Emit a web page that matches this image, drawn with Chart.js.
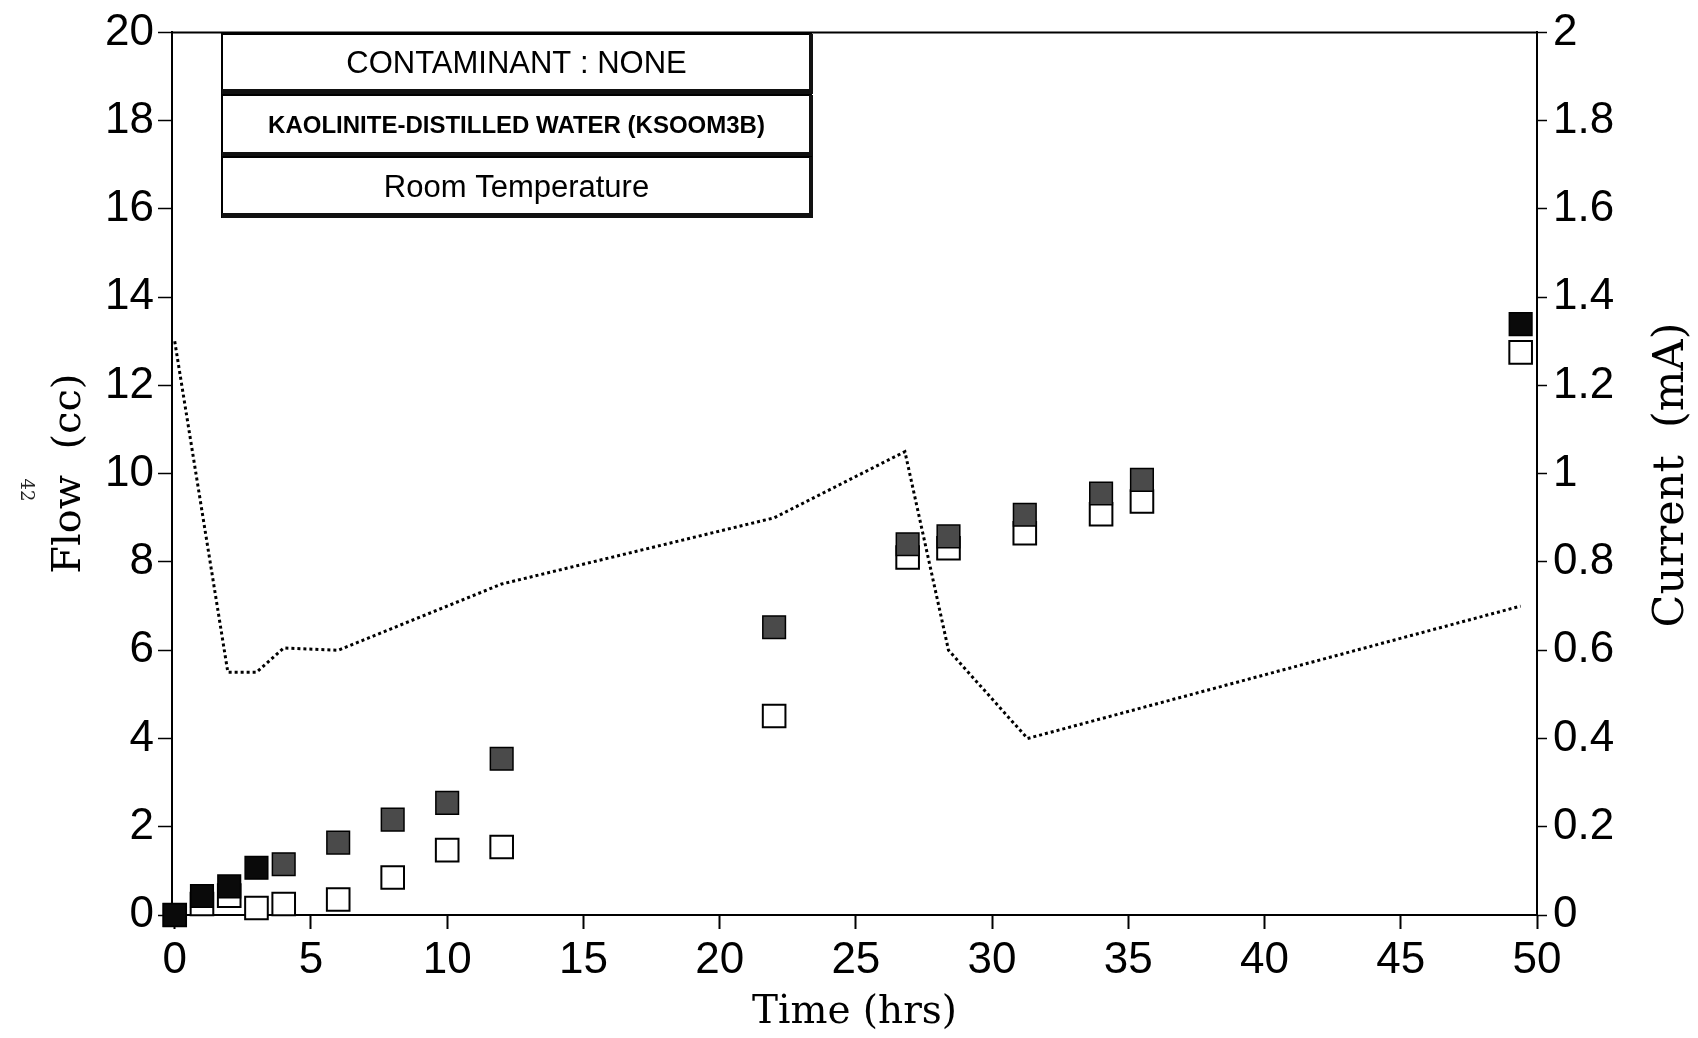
<!doctype html>
<html lang="en">
  <head>
    <meta charset="utf-8">
    <title>Flow and current vs time</title>
    <style>
      body { margin: 0; background-color: #ffffff; }
      #wrap { width: 1698px; height: 1038px; }
    </style>
  </head>
  <body>
    <div id="wrap">
      <canvas id="flowChart" width="1698" height="1038"></canvas>
    </div>

  <script src="https://cdn.jsdelivr.net/npm/chart.js@4.4.0/dist/chart.umd.min.js"></script>
  <script>
    // time of each flow reading (hrs)
    const flowTime = [0, 1, 2, 3, 4, 6, 8, 10, 12, 22, 26.9, 28.4, 31.2, 34, 35.5, 49.4];
    // filled squares (cc)
    const flowA = [0, 0.43, 0.65, 1.07, 1.15, 1.64, 2.16, 2.54, 3.54, 6.52, 8.40, 8.58, 9.07, 9.55, 9.86, 13.39];
    // open squares (cc)
    const flowB = [0, 0.25, 0.44, 0.16, 0.25, 0.35, 0.85, 1.47, 1.54, 4.51, 8.10, 8.31, 8.65, 9.08, 9.37, 12.75];

    // current trace (mA)
    const currentTime = [0, 1.95, 3, 4, 6, 12, 22, 26.8, 28.4, 31.3, 49.4];
    const current = [1.30, 0.55, 0.55, 0.605, 0.60, 0.75, 0.90, 1.05, 0.60, 0.40, 0.70];

    const noteLines = ['CONTAMINANT : NONE', 'KAOLINITE-DISTILLED WATER (KSOOM3B)', 'Room Temperature'];

    function toPoints(xs, ys) {
      return xs.map((x, i) => ({ x: x, y: ys[i] }));
    }

    const tickFont = { family: '"Liberation Sans", Arial, sans-serif', size: 44 };

    // extra drawing: top frame line, the three note boxes, right axis title, page mark
    const extras = {
      id: 'extras',
      afterDraw(chart) {
        const ctx = chart.ctx;
        const a = chart.chartArea;
        ctx.save();
        ctx.strokeStyle = '#000';
        ctx.lineWidth = 2;
        ctx.beginPath();
        ctx.moveTo(a.left, a.top);
        ctx.lineTo(a.right, a.top);
        ctx.stroke();

        // note boxes
        const boxes = [
          { top: 34, bottom: 93, font: '31px "Liberation Sans", Arial, sans-serif' },
          { top: 95, bottom: 156, font: 'bold 24px "Liberation Sans", Arial, sans-serif' },
          { top: 157, bottom: 217, font: '31px "Liberation Sans", Arial, sans-serif' }
        ];
        const bl = 222, br = 811;
        boxes.forEach((b, i) => {
          ctx.fillStyle = '#fff';
          ctx.fillRect(bl, b.top, br - bl, b.bottom - b.top);
          ctx.strokeStyle = '#000';
          ctx.lineWidth = 2;
          ctx.strokeRect(bl, b.top, br - bl, b.bottom - b.top);
          ctx.fillStyle = '#111';
          ctx.fillRect(bl, b.bottom - 4, br - bl + 2, 5);
          ctx.fillRect(br - 2, b.top, 4, b.bottom - b.top);
          ctx.fillStyle = '#000';
          ctx.font = b.font;
          ctx.textAlign = 'center';
          ctx.textBaseline = 'middle';
          ctx.fillText(noteLines[i], (bl + br) / 2, (b.top + b.bottom) / 2 + 1);
        });

        // right axis title, reading upward
        ctx.translate(1672, 475);
        ctx.rotate(-Math.PI / 2);
        ctx.font = '43px "DejaVu Serif", serif';
        ctx.textAlign = 'center';
        ctx.textBaseline = 'middle';
        ctx.fillText('Current  (mA)', 0, 0);
        ctx.restore();

        ctx.save();
        ctx.translate(26, 490);
        ctx.rotate(Math.PI / 2);
        ctx.font = '18px "DejaVu Serif", serif';
        ctx.fillStyle = '#222';
        ctx.textAlign = 'center';
        ctx.textBaseline = 'middle';
        ctx.fillText('42', 0, 0);
        ctx.restore();
      }
    };

    const config = {
      type: 'scatter',
      data: {
        datasets: [
          {
            label: 'Flow (filled)',
            data: toPoints(flowTime, flowA),
            yAxisID: 'y',
            order: 0,
            clip: false,
            pointStyle: 'rect',
            pointRadius: 16,
            pointBorderWidth: 1.5,
            pointBorderColor: '#000',
            pointBackgroundColor: (c) => {
              const x = c.raw ? c.raw.x : 0;
              return (x <= 3 || x > 45) ? '#0a0a0a' : '#4a4a4a';
            }
          },
          {
            label: 'Flow (open)',
            data: toPoints(flowTime, flowB),
            yAxisID: 'y',
            order: 1,
            clip: false,
            pointStyle: 'rect',
            pointRadius: 16,
            pointBorderWidth: 2,
            pointBorderColor: '#000',
            pointBackgroundColor: '#fff'
          },
          {
            label: 'Current',
            type: 'line',
            data: toPoints(currentTime, current),
            yAxisID: 'y1',
            order: 2,
            borderColor: '#000',
            borderWidth: 3,
            borderDash: [3, 3],
            pointRadius: 0,
            tension: 0,
            fill: false
          }
        ]
      },
      options: {
        responsive: false,
        animation: false,
        devicePixelRatio: 1,
        layout: { padding: { top: 28, left: 0, right: 0, bottom: 0 } },
        plugins: {
          legend: { display: false },
          tooltip: { enabled: false }
        },
        scales: {
          x: {
            type: 'linear',
            min: -0.1,
            max: 50,
            afterFit: (s) => { s.height = 123; },
            border: { display: true, color: '#000', width: 2 },
            grid: { drawOnChartArea: false, drawTicks: true, tickLength: 14, tickColor: '#000', tickWidth: 2 },
            ticks: { stepSize: 5, includeBounds: false, color: '#000', font: tickFont, padding: 5, maxRotation: 0 },
            title: {
              display: true, text: 'Time (hrs)', color: '#000',
              font: { family: '"DejaVu Serif", serif', size: 39 },
              padding: { top: 0, bottom: 2 }
            }
          },
          y: {
            position: 'left',
            min: 0,
            max: 20,
            afterFit: (s) => { s.width = 172; },
            border: { display: true, color: '#000', width: 2 },
            grid: { drawOnChartArea: false, drawTicks: true, tickLength: 14, tickColor: '#000', tickWidth: 1.5 },
            ticks: { stepSize: 2, color: '#000', font: tickFont, padding: 4 },
            title: {
              display: true, text: 'Flow  (cc)', color: '#000',
              font: { family: '"DejaVu Serif", serif', size: 40 },
              padding: { top: 46, bottom: 0 }
            }
          },
          y1: {
            position: 'right',
            min: 0,
            max: 2,
            afterFit: (s) => { s.width = 161; },
            border: { display: true, color: '#000', width: 2 },
            grid: { drawOnChartArea: false, drawTicks: true, tickLength: 10, tickColor: '#000', tickWidth: 1.5 },
            ticks: {
              stepSize: 0.2,
              color: '#000',
              font: tickFont,
              padding: 6,
              callback: (v) => String(Math.round(v * 10) / 10)
            }
          }
        }
      },
      plugins: [extras]
    };

    new Chart(document.getElementById('flowChart'), config);
  </script>
  </body>
</html>
